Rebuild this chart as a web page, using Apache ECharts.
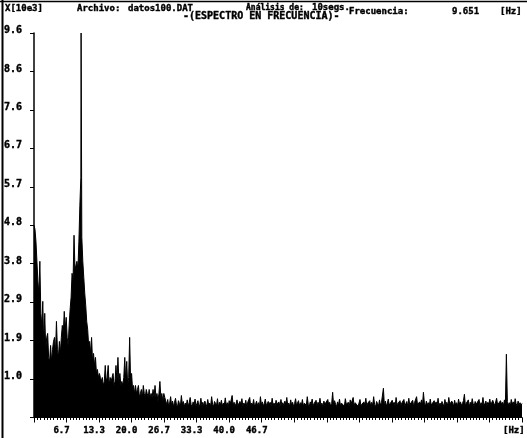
<!DOCTYPE html>
<html>
<head>
<meta charset="utf-8">
<script src="https://cdn.jsdelivr.net/npm/echarts@6/dist/echarts.min.js"></script>
<style>
  html, body { margin: 0; padding: 0; background: #fff; }
  #chart { width: 527px; height: 438px; }
</style>
</head>
<body>
<div id="chart"></div>
<script>
// Spectrum bins, 0.2 Hz apart, from 0 to 100 Hz (amplitude in units of 10e3)
const binHz = 0.2;
const amplitude = [
  4.8, 4.7, 4.4, 3.9, 3.4, 3.1, 3.9, 2.6, 2.3, 2.9, 1.8, 2.6, 1.7, 2.0, 2.1, 1.5, 1.4, 1.8, 1.4, 1.7,
  1.9, 2.0, 1.6, 2.4, 1.7, 1.5, 1.9, 1.6, 2.0, 2.3, 2.1, 2.65, 2.2, 2.5, 2.0, 1.8, 2.3, 2.7, 3.0, 3.6,
  3.4, 4.55, 3.7, 3.8, 3.9, 3.7, 4.4, 5.3, 6.0,
  4.5, 3.9, 3.5, 3.1, 2.8, 2.4, 2.2, 1.8, 1.9, 1.6, 2.0,
  1.4, 1.6, 1.3, 1.5, 1.1, 1.2, 1.0, 1.1, 1.0, 0.9, 1.0, 0.8, 0.9, 1.3, 0.9, 1.0, 1.3, 0.8, 1.0, 0.9,
  1.0, 1.1, 0.8, 0.9, 1.3, 0.9, 1.5, 0.9, 1.1, 0.8, 0.9, 0.8, 1.0, 1.5, 0.9, 1.4, 0.8, 1.0, 2.0, 0.9,
  1.1, 0.7, 0.8, 0.6, 0.8, 0.6, 0.7, 0.8, 0.5, 0.6, 0.7, 0.5, 0.8, 0.6, 0.5, 0.7, 0.6, 0.5, 0.7, 0.5,
  0.6, 0.5, 0.7, 0.5, 0.8, 0.5, 0.6, 0.4, 0.6, 0.9, 0.5, 0.6, 0.4, 0.6, 0.5, 0.5,
  0.32,0.45,0.28,0.36,0.52,0.30,0.41,0.27,0.38,0.48,0.31,0.26,0.42,0.35,0.29,0.55,0.33,0.40,0.27,0.36,
  0.30,0.44,0.28,0.37,0.50,0.32,0.26,0.39,0.31,0.46,0.29,0.35,0.42,0.27,0.33,0.48,0.30,0.38,0.28,0.41,
  0.34,0.27,0.45,0.31,0.36,0.29,0.52,0.33,0.28,0.40,0.35,0.30,0.47,0.26,0.38,0.32,0.43,0.29,0.36,0.31,
  0.49,0.30,0.37,0.27,0.42,0.33,0.29,0.55,0.31,0.38,0.28,0.35,0.44,0.30,0.26,0.40,0.33,0.47,0.29,0.36,
  0.31,0.43,0.27,0.38,0.34,0.50,0.29,0.36,0.31,0.45,0.28,0.33,0.41,0.30,0.37,0.27,0.52,0.32,0.39,0.29,
  0.35,0.46,0.30,0.27,0.40,0.33,0.38,0.29,0.48,0.31,0.36,0.28,0.43,0.34,0.30,0.39,0.27,0.45,0.32,0.37,
  0.29,0.41,0.33,0.50,0.30,0.36,0.28,0.44,0.31,0.38,0.27,0.35,0.47,0.30,0.33,0.42,0.29,0.37,0.31,0.45,
  0.28,0.36,0.40,0.30,0.52,0.33,0.27,0.39,0.34,0.46,0.29,0.35,0.31,0.43,0.28,0.38,0.32,0.48,0.30,0.36,
  0.27,0.41,0.33,0.37,0.29,0.45,0.31,0.38,0.28,0.35,0.63,0.30,0.42,0.33,0.27,0.39,0.31,0.46,0.29,0.36,
  0.32,0.40,0.28,0.47,0.33,0.30,0.38,0.27,0.44,0.35,0.31,0.50,0.29,0.37,0.33,0.41,0.28,0.36,0.45,0.30,
  0.34,0.27,0.39,0.31,0.48,0.29,0.36,0.33,0.42,0.28,0.38,0.30,0.52,0.32,0.27,0.40,0.35,0.29,0.44,0.31,
  0.37,0.33,0.73,0.30,0.41,0.28,0.36,0.46,0.31,0.34,0.27,0.43,0.33,0.38,0.29,0.50,0.32,0.36,0.28,0.42,
  0.30,0.37,0.33,0.45,0.29,0.35,0.40,0.27,0.48,0.32,0.36,0.30,0.43,0.28,0.38,0.34,0.52,0.31,0.29,0.39,
  0.33,0.44,0.30,0.63,0.36,0.28,0.41,0.32,0.37,0.29,0.46,0.31,0.35,0.27,0.42,0.33,0.39,0.30,0.48,0.28,
  0.36,0.31,0.40,0.34,0.27,0.45,0.32,0.38,0.29,0.50,0.33,0.30,0.41,0.36,0.28,0.43,0.31,0.37,0.29,0.46,
  0.33,0.39,0.30,0.35,0.42,0.58,0.29,0.36,0.32,0.44,0.27,0.38,0.31,0.47,0.34,0.29,0.40,0.33,0.36,0.30,
  0.45,0.28,0.37,0.32,0.50,0.30,0.35,0.41,0.29,0.38,0.33,0.46,0.31,0.27,0.43,0.36,0.30,0.39,0.48,0.32,
  0.35,0.29,0.42,0.33,0.38,0.30,0.44,0.36,1.58,0.40,0.31,0.37,0.28,0.45,0.33,0.39,0.30,0.47,0.34,0.29,
  0.41,0.32,0.37,0.30,0.35
];

// Dominant component
const peakHz = 9.651;
const peakAmp = 9.6;

// Axis tick labels
const yTickLabels = ['', '1.0', '1.9', '2.9', '3.8', '4.8', '5.7', '6.7', '7.6', '8.6', '9.6'];
const xTickLabels = ['', '6.7', '13.3', '20.0', '26.7', '33.3', '40.0', '46.7'];

// Header texts
const fileName = 'datos100.DAT';
const duration = '10segs.';

const yStep = 0.96;
const xStep = 20 / 3;

// Spectrum points, with the dominant component placed at its own frequency
const spectrum = amplitude.map((v, i) => [i * binHz, v]);
const insertAt = spectrum.findIndex(p => p[0] > peakHz);
spectrum.splice(insertAt, 0, [peakHz, peakAmp]);

// Heavy monospaced lettering for the screen-style header
const monoBold = { fontFamily: 'DejaVu Sans Mono', fontWeight: 'bold', fill: '#000', stroke: '#000', lineWidth: 0.4 };
function label(text, x, y, size) {
  return { type: 'text', style: Object.assign({ text, x, y, fontSize: size, textVerticalAlign: 'middle' }, monoBold), silent: true };
}
const axisFont = {
  color: '#000', fontWeight: 'bold', fontFamily: 'DejaVu Sans Mono',
  textBorderColor: '#000', textBorderWidth: 0.4
};

const chart = echarts.init(document.getElementById('chart'), null, { renderer: 'canvas' });
chart.setOption({
  animation: false,
  backgroundColor: '#fff',
  grid: { left: 34, right: 5, top: 33, bottom: 20.5, containLabel: false },
  xAxis: {
    type: 'value', min: 0, max: 100, interval: xStep,
    axisLine: { show: true, lineStyle: { color: '#000', width: 1 } },
    axisTick: { show: true, length: 5, lineStyle: { color: '#000', width: 1 } },
    minorTick: { show: true, splitNumber: 10, length: 2.5, lineStyle: { color: '#000', width: 1 } },
    splitLine: { show: false },
    axisLabel: Object.assign({
      margin: 9, fontSize: 9, padding: [0, 10, 0, 0],
      formatter: v => xTickLabels[Math.round(v / xStep)] || ''
    }, axisFont)
  },
  yAxis: {
    type: 'value', min: 0, max: 9.6, interval: yStep,
    axisLine: { show: true, lineStyle: { color: '#000', width: 1.5 } },
    axisTick: { show: true, length: 4, lineStyle: { color: '#000', width: 1 } },
    splitLine: { show: false },
    axisLabel: Object.assign({
      margin: 12, fontSize: 10, verticalAlign: 'bottom', lineHeight: 5,
      formatter: v => yTickLabels[Math.round(v / yStep)] || ''
    }, axisFont)
  },
  series: [{
    type: 'line',
    data: spectrum,
    symbol: 'none',
    lineStyle: { color: '#000', width: 1 },
    areaStyle: { color: '#000', opacity: 1 },
    z: 3
  }],
  graphic: [
    { type: 'line', shape: { x1: 2.5, y1: 0, x2: 2.5, y2: 438 }, style: { stroke: '#000', lineWidth: 2 }, silent: true },
    { type: 'line', shape: { x1: 0, y1: 1.5, x2: 527, y2: 1.5 }, style: { stroke: '#000', lineWidth: 1.5 }, silent: true },
    label('X[10e3]', 5, 9, 9),
    label('Archivo:', 77, 9, 9),
    label(fileName, 128, 9, 9),
    label('Análisis de:', 246, 8, 8),
    label(duration, 312, 8, 9),
    label('Frecuencia:', 349, 12, 9),
    label(peakHz.toFixed(3), 452, 12, 9),
    label('[Hz]', 500, 12, 9),
    label('-(ESPECTRO EN FRECUENCIA)-', 183, 16, 10),
    label('[Hz]', 503, 431, 9)
  ]
});
</script>
</body>
</html>
